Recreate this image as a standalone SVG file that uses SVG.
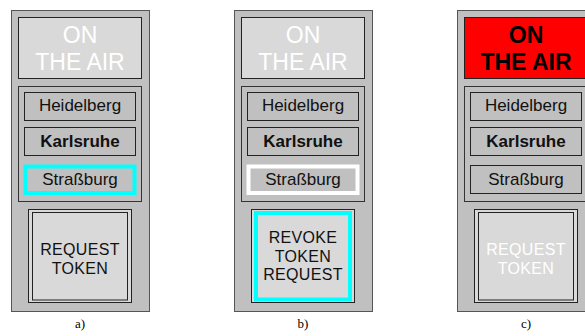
<svg xmlns="http://www.w3.org/2000/svg" width="585" height="336" viewBox="0 0 585 336">
<style>
.panel{fill:#c0c0c0;stroke:#555;stroke-width:1}
.air{fill:#d9d9d9;stroke:#222;stroke-width:1}
.airon{fill:#ff0000;stroke:#222;stroke-width:1}
.grp{fill:none;stroke:#333;stroke-width:1}
.city{fill:#c0c0c0;stroke:#222;stroke-width:1}
.btn{fill:#d9d9d9;stroke:#222;stroke-width:1}
.inner{fill:none;stroke:#222;stroke-width:1}
.t{font-family:"Liberation Sans",Arial,sans-serif;text-anchor:middle}
.big{font-size:23px;fill:#ffffff}
.bigon{font-size:23px;font-weight:bold;fill:#000}
.c{font-size:17px;fill:#111}
.b{font-weight:bold}
.bt{font-size:16px;fill:#111;letter-spacing:0.3px}
.bw{font-size:16px;fill:#ffffff;letter-spacing:0.3px}
.cap{font-family:"Liberation Serif","Times New Roman",serif;font-size:13px;text-anchor:middle;fill:#000}
</style>
<g id="connectors"/>
<g id="panel-a">
  <rect class="panel" x="11.5" y="10.5" width="138" height="301"/>
  <g id="a-onair">
    <rect class="air" x="18.5" y="17.5" width="123" height="61"/>
    <text class="t big" x="80" y="42.5">ON</text>
    <text class="t big" x="80" y="69.5">THE AIR</text>
  </g>
  <g id="a-cities"><rect class="grp" x="18.5" y="86.5" width="123" height="115"/></g>
  <g id="a-heidelberg"><rect class="city" x="24.5" y="92.5" width="111" height="28"/><text class="t c" x="80" y="111">Heidelberg</text></g>
  <g id="a-karlsruhe"><rect class="city" x="24.5" y="127.5" width="111" height="28"/><text class="t c b" x="80" y="146.5">Karlsruhe</text></g>
  <g id="a-strassburg"><rect class="city" x="25.5" y="166.5" width="109" height="26.5" style="stroke:#00ffff;stroke-width:4"/><text class="t c" x="80" y="185">Straßburg</text></g>
  <g id="a-button">
    <rect class="btn" x="28.5" y="209.5" width="103" height="93"/>
    <rect class="inner" x="32.5" y="212.5" width="95" height="87.5"/>
    <text class="t bt" x="80" y="255">REQUEST</text>
    <text class="t bt" x="80" y="273.5">TOKEN</text>
  </g>
  <text class="cap" x="80" y="328">a)</text>
</g>
<g id="panel-b" transform="translate(223,0)">
  <rect class="panel" x="11.5" y="10.5" width="138" height="301"/>
  <g id="b-onair">
    <rect class="air" x="18.5" y="17.5" width="123" height="61"/>
    <text class="t big" x="80" y="42.5">ON</text>
    <text class="t big" x="80" y="69.5">THE AIR</text>
  </g>
  <g id="b-cities"><rect class="grp" x="18.5" y="86.5" width="123" height="115"/></g>
  <g id="b-heidelberg"><rect class="city" x="24.5" y="92.5" width="111" height="28"/><text class="t c" x="80" y="111">Heidelberg</text></g>
  <g id="b-karlsruhe"><rect class="city" x="24.5" y="127.5" width="111" height="28"/><text class="t c b" x="80" y="146.5">Karlsruhe</text></g>
  <g id="b-strassburg"><rect class="city" x="25.5" y="166.5" width="109" height="26.5" style="stroke:#ffffff;stroke-width:4"/><text class="t c" x="80" y="185">Straßburg</text></g>
  <g id="b-button">
    <rect class="btn" x="28.5" y="209.5" width="103" height="93"/>
    <rect class="inner" x="33" y="213" width="94" height="86.5" style="stroke:#00ffff;stroke-width:4"/>
    <text class="t bt" x="80" y="243">REVOKE</text>
    <text class="t bt" x="80" y="261.5">TOKEN</text>
    <text class="t bt" x="80" y="280">REQUEST</text>
  </g>
  <text class="cap" x="80" y="328">b)</text>
</g>
<g id="panel-c" transform="translate(446,0)">
  <rect class="panel" x="11.5" y="10.5" width="138" height="301"/>
  <g id="c-onair">
    <rect class="airon" x="18.5" y="17.5" width="123" height="61"/>
    <text class="t bigon" x="80" y="42.5">ON</text>
    <text class="t bigon" x="80" y="69.5">THE AIR</text>
  </g>
  <g id="c-cities"><rect class="grp" x="18.5" y="86.5" width="123" height="115"/></g>
  <g id="c-heidelberg"><rect class="city" x="24.5" y="92.5" width="111" height="28"/><text class="t c" x="80" y="111">Heidelberg</text></g>
  <g id="c-karlsruhe"><rect class="city" x="24.5" y="127.5" width="111" height="28"/><text class="t c b" x="80" y="146.5">Karlsruhe</text></g>
  <g id="c-strassburg"><rect class="city" x="24.5" y="165.5" width="111" height="28"/><text class="t c" x="80" y="185">Straßburg</text></g>
  <g id="c-button">
    <rect class="btn" x="28.5" y="209.5" width="103" height="93"/>
    <rect class="inner" x="32.5" y="212.5" width="95" height="87.5"/>
    <text class="t bw" x="80" y="255">REQUEST</text>
    <text class="t bw" x="80" y="273.5">TOKEN</text>
  </g>
  <text class="cap" x="80" y="328">c)</text>
</g>
</svg>
